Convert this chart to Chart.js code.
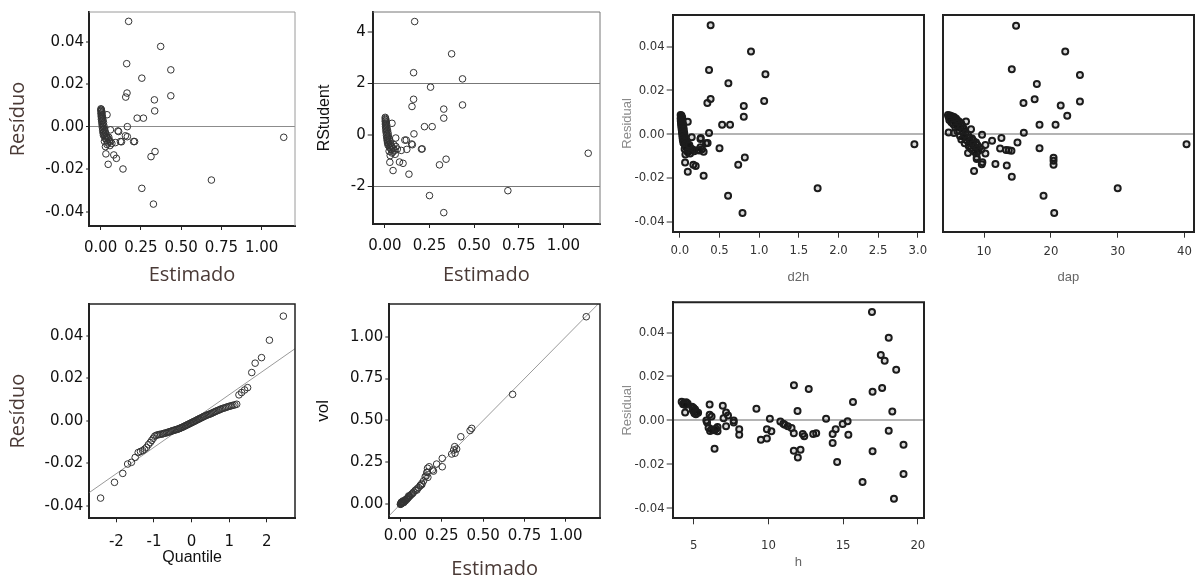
<!DOCTYPE html>
<html>
<head>
<meta charset="utf-8">
<script src="https://cdn.jsdelivr.net/npm/chart.js@4.4.1/dist/chart.umd.min.js"></script>
<style>
  html, body { margin: 0; padding: 0; background: #fff; }
  body { position: relative; width: 1198px; height: 581px; overflow: hidden; }
  canvas { position: absolute; }
</style>
</head>
<body>
<canvas id="p1"></canvas>
<canvas id="p2"></canvas>
<canvas id="p3"></canvas>
<canvas id="p4"></canvas>
<canvas id="p5"></canvas>
<canvas id="p6"></canvas>
<canvas id="p7"></canvas>
<script>
// --- panel 1: residuo x estimado
const p1Est = [0.174,0.373,0.162,0.436,0.256,0.164,0.156,0.436,0.334,0.336,0.227,0.266,0.166,1.137,0.166,0.211,0.108,0.13,0.338,0.313,0.098,0.033,0.047,0.139,0.688,0.256,0.328,
  0.002,0.004,0.003,0.006,0.002,0.008,0.005,0.003,0.01,0.006,0.004,0.012,0.008,0.005,0.015,0.01,0.007,0.018,0.012,0.009,0.02,0.014,0.011,0.024,0.016,0.013,0.028,0.019,0.015,0.032,
  0.022,0.018,0.036,0.026,0.042,0.03,0.048,0.036,0.055,0.024,0.062,0.045,0.07,0.04,0.058,0.03,0.04,0.061,0.112,0.154,0.123,0.092,0.051,0.082,0.205];
const p1Res = [0.0496,0.0378,0.0297,0.0268,0.0229,0.0159,0.014,0.0146,0.0127,0.0075,0.0041,0.0041,0.0001,-0.0049,-0.0046,-0.0069,-0.0019,-0.007,-0.0116,-0.014,-0.0148,-0.0127,-0.0176,-0.0198,-0.025,-0.0289,-0.0363,
  0.0085,0.0082,0.0078,0.0075,0.0072,0.0068,0.0064,0.006,0.0057,0.0052,0.0048,0.0045,0.004,0.0036,0.0032,0.0028,0.0024,0.002,0.0015,0.001,0.0006,0.0002,-0.0003,-0.0008,-0.0012,-0.0016,-0.002,-0.0024,-0.0028,-0.0031,
  -0.0035,-0.004,-0.0043,-0.0047,-0.005,-0.0055,-0.0058,-0.0062,-0.0065,-0.0068,-0.007,-0.0075,-0.0078,-0.0083,-0.0088,-0.0093,0.0057,-0.0014,-0.0022,-0.0042,-0.0069,-0.0074,-0.0049,-0.0132,-0.0069];

// --- panel 2: rstudent x estimado
const p2Est = [0.167,0.374,0.161,0.435,0.256,0.161,0.152,0.435,0.33,0.33,0.222,0.265,0.163,1.139,0.209,0.15,0.12,0.343,0.306,0.102,0.028,0.046,0.135,0.689,0.25,0.33,
  0.002,0.004,0.003,0.006,0.002,0.008,0.005,0.003,0.01,0.006,0.004,0.012,0.008,0.005,0.015,0.01,0.007,0.018,0.012,0.009,0.02,0.014,0.011,0.024,0.016,0.013,0.028,0.019,0.015,0.032,
  0.022,0.018,0.036,0.026,0.042,0.03,0.048,0.036,0.055,0.024,0.062,0.045,0.07,0.04,0.058,0.03,0.04,0.061,0.112,0.154,0.123,0.092,0.051,0.082,0.205];
const p2RStudent = [4.39,3.14,2.41,2.17,1.85,1.38,1.1,1.16,1.0,0.65,0.32,0.32,0.04,-0.71,-0.54,-0.35,-0.2,-0.94,-1.16,-1.1,-1.06,-1.38,-1.52,-2.16,-2.35,-3.01,
  0.68,0.64,0.6,0.57,0.53,0.5,0.46,0.42,0.4,0.36,0.32,0.29,0.25,0.21,0.18,0.14,0.1,0.07,0.03,-0.01,-0.04,-0.08,-0.12,-0.15,-0.19,-0.22,-0.25,-0.28,-0.31,-0.34,
  -0.37,-0.4,-0.43,-0.46,-0.48,-0.51,-0.54,-0.57,-0.6,-0.63,-0.45,-0.66,-0.55,-0.7,-0.75,-0.8,0.45,-0.12,-0.2,-0.38,-0.56,-0.6,-0.38,-1.05,-0.55];

// --- panel 3: residual x d2h
const p3D2h = [0.388,0.897,0.368,1.079,0.612,0.388,0.347,1.063,0.806,0.806,0.533,0.633,0.368,0.5,0.35,0.264,0.26,0.819,0.736,0.066,0.17,0.2,0.1,0.3,2.957,1.737,0.608,0.79,
  0.01,0.02,0.015,0.03,0.01,0.025,0.02,0.012,0.035,0.022,0.015,0.04,0.028,0.018,0.045,0.032,0.022,0.05,0.036,0.026,0.055,0.04,0.03,0.06,0.045,0.034,0.07,0.05,0.038,0.08,
  0.056,0.045,0.09,0.065,0.1,0.075,0.12,0.085,0.14,0.06,0.16,0.11,0.18,0.1,0.13,0.07,0.1,0.15,0.26,0.33,0.28,0.22,0.12,0.3,0.25];
const p3Res = [0.0498,0.0378,0.0294,0.0274,0.0233,0.0161,0.0142,0.0152,0.0129,0.008,0.0043,0.0043,0.0005,-0.0064,-0.004,-0.0018,-0.006,-0.0107,-0.014,-0.013,-0.014,-0.0145,-0.0172,-0.019,-0.0046,-0.0247,-0.0282,-0.0361,
  0.0088,0.0085,0.008,0.0076,0.0072,0.0068,0.0064,0.006,0.0056,0.0052,0.0048,0.0044,0.004,0.0036,0.0032,0.0028,0.0024,0.002,0.0015,0.001,0.0006,0.0002,-0.0003,-0.0008,-0.0012,-0.0016,-0.002,-0.0024,-0.0028,-0.0031,
  -0.0035,-0.004,-0.0043,-0.0047,-0.005,-0.0055,-0.0058,-0.0062,-0.0065,-0.0068,-0.007,-0.0075,-0.0078,-0.0083,-0.0088,-0.0093,0.0057,-0.0014,-0.0022,-0.0042,-0.0069,-0.0074,-0.0049,-0.008,-0.0075];

// --- panel 4: residual x dap
const p4Dap = [14.79,22.15,14.15,24.35,17.9,17.57,15.9,24.35,21.47,22.45,18.3,20.7,15.95,40.3,15.0,18.3,12.4,13.3,14.1,13.7,20.4,20.4,20.4,13.4,14.15,30.0,18.9,20.5,9.66,8.9,
  4.6,4.9,5.2,4.7,5.5,5.0,5.8,5.3,4.8,6.0,5.6,6.3,5.1,5.9,6.6,5.4,6.2,7.3,6.8,5.7,6.5,7.0,8.05,4.7,5.5,6.0,6.8,7.2,7.6,6.4,
  7.0,7.8,8.2,6.6,7.4,8.4,7.9,8.8,7.1,8.3,9.0,7.7,8.6,9.3,8.0,8.9,9.6,8.3,9.1,8.6,7.6,9.7,11.2,12.6,10.2,10.2,8.9,9.75,11.7,8.5];
const p4Res = [0.0496,0.0378,0.0297,0.0271,0.023,0.016,0.0142,0.0149,0.0131,0.0084,0.0043,0.0043,0.0007,-0.0046,-0.0038,-0.0064,-0.0066,-0.0072,-0.0076,-0.0074,-0.0108,-0.0121,-0.014,-0.0143,-0.0195,-0.0247,-0.0282,-0.0361,-0.0137,-0.0114,
  0.0088,0.0085,0.0082,0.0078,0.0079,0.0074,0.0072,0.0068,0.0065,0.0064,0.006,0.0057,0.0055,0.005,0.0048,0.0045,0.004,0.0058,0.0036,0.0032,0.0028,0.0024,0.0023,0.0008,0.0005,0.0015,0.001,0.0003,-0.0004,-0.0008,
  -0.0012,-0.0016,-0.002,-0.0024,-0.0028,-0.003,-0.0035,-0.0038,-0.0042,-0.0046,-0.005,-0.0054,-0.0058,-0.0061,-0.0065,-0.0068,-0.007,-0.0074,-0.0078,-0.0082,-0.0086,-0.0003,-0.003,-0.0018,-0.005,-0.0088,-0.0105,-0.0128,-0.0136,-0.0168];

// --- panel 5: residuo x quantile (normal)
const p5Quantile = [-2.42,-2.05,-1.83,-1.7,-1.6,-1.5,-1.42,-1.36,-1.3,-1.25,
  -1.2,-1.15,-1.1,-1.06,-1.02,-0.98,-0.94,-0.9,-0.86,-0.82,-0.78,-0.75,-0.72,-0.68,-0.65,-0.62,-0.59,-0.56,-0.53,-0.5,
  -0.47,-0.44,-0.41,-0.38,-0.35,-0.32,-0.3,-0.27,-0.24,-0.21,-0.19,-0.16,-0.13,-0.11,-0.08,-0.05,-0.03,0,0.03,0.05,
  0.08,0.11,0.13,0.16,0.19,0.21,0.24,0.27,0.3,0.32,0.35,0.38,0.41,0.44,0.47,0.5,0.53,0.56,0.59,0.62,
  0.65,0.68,0.72,0.75,0.78,0.82,0.86,0.9,0.94,0.98,1.02,1.06,1.1,1.15,1.2,
  1.26,1.33,1.41,1.49,1.6,1.69,1.86,2.07,2.44];
const p5Res = [-0.0363,-0.0289,-0.0247,-0.0203,-0.0195,-0.0172,-0.0149,-0.0144,-0.014,-0.0133,
  -0.0125,-0.0112,-0.0102,-0.0092,-0.0082,-0.0072,-0.0068,-0.0066,-0.0064,-0.0063,-0.0062,-0.006,-0.0058,-0.0057,-0.0055,-0.0053,-0.0052,-0.005,-0.0048,-0.0046,
  -0.0045,-0.0043,-0.0041,-0.004,-0.0038,-0.0036,-0.0034,-0.0032,-0.003,-0.0027,-0.0025,-0.0023,-0.002,-0.0018,-0.0016,-0.0013,-0.0011,-0.0009,-0.0006,-0.0004,
  -0.0002,0.0001,0.0003,0.0006,0.0008,0.001,0.0013,0.0015,0.0018,0.002,0.0022,0.0025,0.0027,0.0029,0.0031,0.0033,0.0035,0.0038,0.004,0.0043,
  0.0045,0.0048,0.005,0.0053,0.0055,0.0058,0.006,0.0062,0.0065,0.0067,0.0069,0.0071,0.0073,0.0075,0.0078,
  0.0122,0.0133,0.0145,0.0156,0.0227,0.0271,0.0297,0.0379,0.0492];
const p5LineX = [-2.72, 2.75];
const p5LineY = [-0.0337, 0.0339];

// --- panel 6: vol x estimado
const p6Est = [1.123,0.678,0.431,0.421,0.365,0.328,0.322,0.31,0.33,0.253,0.253,0.219,0.194,0.164,0.16,0.156,0.166,0.174,0.162,0.15,
  0.14,0.13,0.12,0.11,0.1,0.09,0.08,0.075,0.07,0.065,0.06,0.055,0.05,0.045,0.04,0.035,0.03,0.027,0.024,0.02,
  0.017,0.014,0.012,0.01,0.008,0.006,0.004,0.003,0.002,0.001,0,0.005,0.01,0.015,0.02,0.03,0.04,0.05,0.1,0.12,0.13,0.2,0.34];
const p6Vol = [1.119,0.656,0.453,0.44,0.403,0.344,0.324,0.3,0.305,0.274,0.224,0.24,0.205,0.215,0.19,0.17,0.161,0.224,0.192,0.165,
  0.14,0.125,0.113,0.1,0.092,0.083,0.073,0.066,0.062,0.058,0.052,0.048,0.042,0.038,0.034,0.03,0.026,0.022,0.019,0.016,
  0.014,0.012,0.01,0.008,0.007,0.006,0.004,0.003,0.002,0.001,0,0.012,0.014,0.02,0.01,0.02,0.03,0.05,0.085,0.11,0.118,0.198,0.33];
const p6LineX = [-0.067, 1.206];
const p6LineY = [-0.067, 1.206];

// --- panel 7: residual x h
const p7H = [16.93,18.05,17.52,17.78,18.55,11.71,12.7,17.61,16.97,15.66,18.29,11.95,13.86,18.05,19.04,16.97,16.3,19.04,18.4,14.6,11.97,11.7,12.15,6.4,
  9.2,10.1,9.9,10.2,9.5,9.9,10.8,11.0,11.3,11.1,11.7,12.3,13.0,13.2,14.3,14.5,14.3,14.97,15.3,15.35,12.4,11.55,
  4.2,4.35,4.5,4.6,4.3,4.45,4.43,4.9,5.0,5.1,4.95,5.2,5.05,5.15,5.3,6.07,6.95,7.17,6.07,6.2,
  5.85,5.9,6.0,6.2,6.4,6.6,6.1,6.6,7.17,7.68,7.68,8.05,8.05,7.0,7.3,6.5];
const p7Res = [0.0494,0.0376,0.0298,0.0272,0.0231,0.016,0.0143,0.0148,0.013,0.0084,0.0041,0.0043,0.0008,-0.0047,-0.0111,-0.0141,-0.0281,-0.0244,-0.0357,-0.019,-0.0169,-0.0138,-0.0134,-0.0129,
  0.0053,0.0008,-0.004,-0.005,-0.0088,-0.0083,-0.0005,-0.0015,-0.0027,-0.002,-0.0058,-0.0062,-0.0062,-0.0058,-0.0062,-0.004,-0.0103,-0.0016,-0.0004,-0.0065,-0.0072,-0.0035,
  0.0085,0.008,0.0083,0.0077,0.0074,0.007,0.0036,0.0062,0.0057,0.005,0.0045,0.0038,0.0033,0.0028,0.0035,0.0072,0.0067,0.0036,0.0026,0.0018,
  0.0,-0.001,-0.0033,-0.004,-0.0045,-0.005,-0.0048,-0.003,-0.0027,0.0,-0.001,-0.004,-0.0065,0.001,0.0022,-0.0038];

// tick values
const ticksEst = [0, 0.25, 0.5, 0.75, 1.0];
const ticksRes = [-0.04, -0.02, 0, 0.02, 0.04];
const ticksRStudent = [-2, 0, 2, 4];
const ticksD2h = [0, 0.5, 1.0, 1.5, 2.0, 2.5, 3.0];
const ticksDap = [10, 20, 30, 40];
const ticksQuantile = [-2, -1, 0, 1, 2];
const ticksVol = [0, 0.25, 0.5, 0.75, 1.0];
const ticksH = [5, 10, 15, 20];

Chart.defaults.font.family = "'Liberation Sans', Arial, sans-serif";
Chart.defaults.animation = false;
Chart.defaults.events = [];
Chart.defaults.plugins.legend.display = false;
Chart.defaults.plugins.tooltip.enabled = false;

const pts = (xs, ys) => xs.map((x, i) => ({ x: x, y: ys[i] }));

const bigTitle = { family: "'Open Sans', 'Noto Sans', sans-serif", size: 20 };
const bigTitleColor = '#4a3a36';
const wideTick = { family: "'DejaVu Sans', sans-serif", size: 15 };
const narrowTick = { family: "'Liberation Sans Narrow', 'DejaVu Sans Condensed', sans-serif", size: 13 };
const smallTitle = { family: "'Liberation Sans', Arial, sans-serif", size: 13 };

// top + right edge of the plot box
const framePlugin = {
    id: 'frame',
    afterDatasetsDraw(chart, args, opts) {
        const { ctx, chartArea: a } = chart;
        ctx.save();
        ctx.strokeStyle = opts.color;
        ctx.lineWidth = opts.width;
        ctx.beginPath();
        ctx.moveTo(a.left, a.top);
        ctx.lineTo(a.right, a.top);
        ctx.lineTo(a.right, a.bottom);
        ctx.stroke();
        ctx.restore();
    }
};

function makePanel(c) {
    const cv = document.getElementById(c.id);
    const [bx, by, bw, bh] = c.box;
    const [L, T, R, B] = c.area;
    cv.width = bw; cv.height = bh;
    cv.style.left = bx + 'px'; cv.style.top = by + 'px';
    const yW = L - bx, xH = by + bh - B;
    const refY = c.refY || [];

    const datasets = [{
        type: 'scatter',
        data: pts(c.xs, c.ys),
        pointRadius: c.ptRadius,
        pointBorderWidth: c.ptWidth,
        pointBorderColor: c.ptColor,
        pointBackgroundColor: c.ptFill,
        order: 1
    }];
    if (c.line) {
        datasets.push({
            type: 'line',
            data: pts(c.line[0], c.line[1]),
            borderColor: '#9a9a9a',
            borderWidth: 1,
            pointRadius: 0,
            order: 2
        });
    }

    new Chart(cv, {
        type: 'scatter',
        data: { datasets },
        options: {
            responsive: false,
            layout: { padding: { top: T - by, right: bx + bw - R, bottom: 0, left: 0 } },
            scales: {
                x: {
                    type: 'linear', min: c.xr[0], max: c.xr[1],
                    afterBuildTicks: s => { s.ticks = c.xt.map(v => ({ value: v })); },
                    afterFit: s => { s.height = xH; s.paddingLeft = 0; s.paddingRight = 0; },
                    ticks: {
                        autoSkip: false, maxRotation: 0, padding: c.xPad,
                        font: c.tickFont, color: c.tickColor,
                        callback: v => v.toFixed(c.xd)
                    },
                    grid: { drawOnChartArea: false, tickLength: c.xtl, tickColor: c.tickMark, tickWidth: 1 },
                    border: { color: c.axisColor, width: 2 },
                    title: {
                        display: true, text: c.xTitle, font: c.xTitleFont, color: c.xTitleColor,
                        padding: { top: 0, bottom: c.xTitlePad }
                    }
                },
                y: {
                    type: 'linear', min: c.yr[0], max: c.yr[1],
                    afterBuildTicks: s => { s.ticks = c.yt.map(v => ({ value: v })); },
                    afterFit: s => { s.width = yW; s.paddingTop = 0; s.paddingBottom = 0; },
                    ticks: {
                        display: c.yLabels !== false, padding: c.yPad,
                        font: c.tickFont, color: c.tickColor,
                        callback: v => v.toFixed(c.yd)
                    },
                    grid: {
                        drawOnChartArea: refY.length > 0,
                        color: ctx => (ctx.tick && refY.includes(ctx.tick.value)) ? c.refColor : 'rgba(0,0,0,0)',
                        lineWidth: ctx => (ctx.tick && refY.includes(ctx.tick.value)) ? c.refWidth : 0,
                        tickLength: c.ytl,
                        tickColor: c.yLabels === false ? 'rgba(0,0,0,0)' : c.tickMark,
                        tickWidth: 1
                    },
                    border: { color: c.axisColor, width: 2 },
                    title: {
                        display: !!c.yTitle, text: c.yTitle, font: c.yTitleFont, color: c.yTitleColor,
                        padding: { top: c.yTitlePad, bottom: 0 }
                    }
                }
            },
            plugins: { frame: c.frame }
        },
        plugins: [framePlugin]
    });
}

const wideStyle = {
    tickFont: wideTick, tickColor: '#111', tickMark: '#222', axisColor: '#222',
    ptRadius: 3.3, ptWidth: 1, ptColor: '#333', ptFill: 'rgba(0,0,0,0)'
};
const narrowStyle = {
    tickFont: narrowTick, tickColor: '#333', tickMark: '#333', axisColor: '#222',
    ptRadius: 3, ptWidth: 2, ptColor: '#1c1c1c', ptFill: 'rgba(0,0,0,0.15)',
    refColor: '#b4b4b4', refWidth: 2, frame: { color: '#222', width: 2 },
    xtl: 6, ytl: 6, yPad: 2,
    yTitle: 'Residual', yTitleFont: smallTitle, yTitleColor: '#8a8a8a', yTitlePad: 15,
    xTitleFont: smallTitle, xTitleColor: '#666'
};

makePanel(Object.assign({}, wideStyle, {
    id: 'p1', box: [0, 0, 300, 290], area: [89, 12, 297, 226],
    xs: p1Est, ys: p1Res, xr: [-0.072, 1.207], yr: [-0.0466, 0.054],
    xt: ticksEst, yt: ticksRes, xd: 2, yd: 2,
    xtl: 4, ytl: 3, xPad: 9, yPad: 2,
    refY: [0], refColor: '#8c8c8c', refWidth: 1,
    frame: { color: '#9a9a9a', width: 1 },
    xTitle: 'Estimado', xTitleFont: bigTitle, xTitleColor: bigTitleColor, xTitlePad: 3,
    yTitle: 'Resíduo', yTitleFont: bigTitle, yTitleColor: bigTitleColor, yTitlePad: 6
}));

makePanel(Object.assign({}, wideStyle, {
    id: 'p2', box: [300, 0, 305, 290], area: [372.7, 12, 601.5, 224],
    xs: p2Est, ys: p2RStudent, xr: [-0.068, 1.205], yr: [-3.45, 4.76],
    xt: ticksEst, yt: ticksRStudent, xd: 2, yd: 0,
    xtl: 4, ytl: 5, xPad: 9, yPad: 2,
    refY: [-2, 2], refColor: '#777', refWidth: 1,
    frame: { color: '#777', width: 1 },
    xTitle: 'Estimado', xTitleFont: bigTitle, xTitleColor: bigTitleColor, xTitlePad: 3,
    yTitle: 'RStudent', yTitleFont: { size: 16 }, yTitleColor: '#111', yTitlePad: 15
}));

makePanel(Object.assign({}, narrowStyle, {
    id: 'p3', box: [605, 0, 325, 290], area: [672.7, 15, 928, 231.7],
    xs: p3D2h, ys: p3Res, xr: [-0.09, 3.078], yr: [-0.0446, 0.0545],
    xt: ticksD2h, yt: ticksRes, xd: 1, yd: 2, xPad: 5,
    refY: [0], xTitle: 'd2h', xTitlePad: 5
}));

makePanel(Object.assign({}, narrowStyle, {
    id: 'p4', box: [935, 0, 265, 290], area: [942.7, 15, 1199, 231.7],
    xs: p4Dap, ys: p4Res, xr: [3.81, 41.42], yr: [-0.0446, 0.0545],
    xt: ticksDap, yt: ticksRes, xd: 0, yd: 2, xPad: 6,
    refY: [0], yLabels: false, yTitle: '', xTitle: 'dap', xTitlePad: 5
}));

makePanel(Object.assign({}, wideStyle, {
    id: 'p5', box: [0, 290, 300, 291], area: [89.3, 304, 296.7, 518.3],
    xs: p5Quantile, ys: p5Res, xr: [-2.72, 2.75], yr: [-0.0458, 0.0549],
    xt: ticksQuantile, yt: ticksRes, xd: 0, yd: 2,
    xtl: 4, ytl: 3, xPad: 11, yPad: 3,
    line: [p5LineX, p5LineY],
    frame: { color: '#222', width: 1.5 },
    xTitle: 'Quantile', xTitleFont: { size: 16 }, xTitleColor: '#111', xTitlePad: 14,
    yTitle: 'Resíduo', yTitleFont: bigTitle, yTitleColor: bigTitleColor, yTitlePad: 6
}));

makePanel(Object.assign({}, wideStyle, {
    id: 'p6', box: [300, 290, 305, 306], area: [389.3, 304, 604, 517.7],
    xs: p6Est, ys: p6Vol, xr: [-0.067, 1.206], yr: [-0.08, 1.195],
    xt: ticksEst, yt: ticksVol, xd: 2, yd: 2,
    xtl: 4, ytl: 4, xPad: 5, yPad: 2,
    line: [p6LineX, p6LineY],
    frame: { color: '#222', width: 1.5 },
    xTitle: 'Estimado', xTitleFont: bigTitle, xTitleColor: bigTitleColor, xTitlePad: 15,
    yTitle: 'vol', yTitleFont: { size: 17 }, yTitleColor: '#111', yTitlePad: 13
}));

makePanel(Object.assign({}, narrowStyle, {
    id: 'p7', box: [605, 290, 325, 291], area: [672.7, 302.3, 928, 518.3],
    xs: p7H, ys: p7Res, xr: [3.6, 20.41], yr: [-0.0446, 0.0538],
    xt: ticksH, yt: ticksRes, xd: 0, yd: 2, xPad: 14,
    refY: [0], xTitle: 'h', xTitlePad: 11
}));
</script>
</body>
</html>
